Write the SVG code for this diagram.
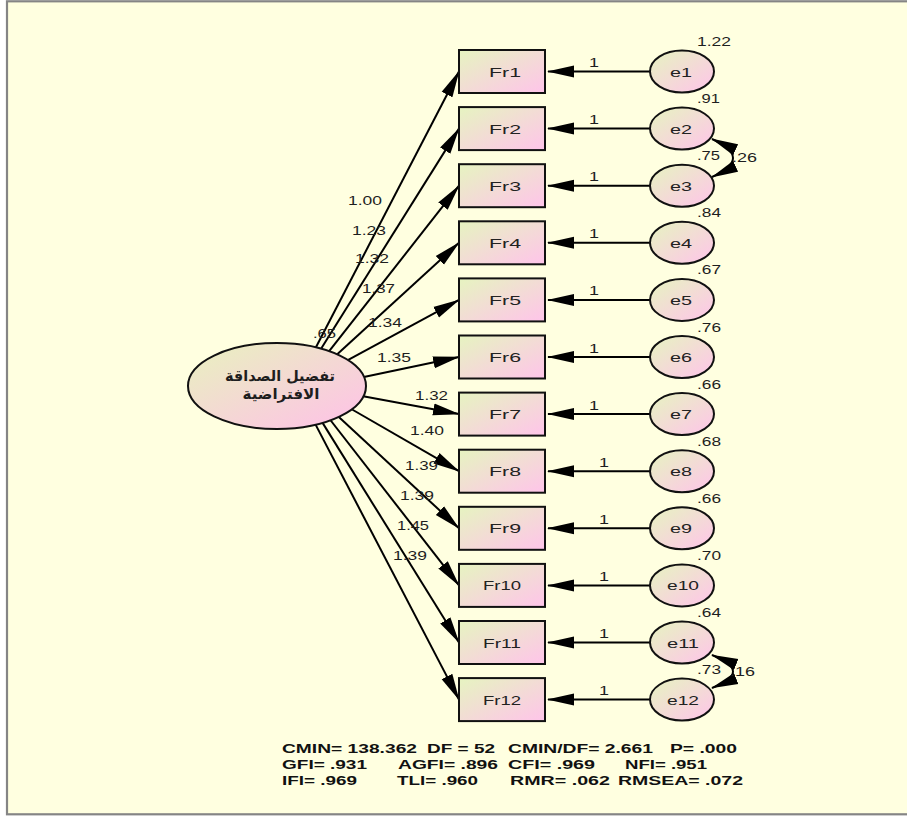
<svg xmlns="http://www.w3.org/2000/svg" width="907" height="816" viewBox="0 0 907 816">
  <defs>
    <linearGradient id="fillGrad" x1="0" y1="0" x2="1" y2="1">
      <stop offset="0" stop-color="#E6F4C0"/>
      <stop offset="1" stop-color="#FFC4EA"/>
    </linearGradient>
    <linearGradient id="latentGrad" x1="0" y1="0" x2="1" y2="1">
      <stop offset="0" stop-color="#E8F2BE"/>
      <stop offset="1" stop-color="#FFC0E8"/>
    </linearGradient>
    <marker id="head" markerUnits="userSpaceOnUse" viewBox="0 0 28 14" markerWidth="28" markerHeight="14" refX="26" refY="7" orient="auto-start-reverse">
      <path d="M0,1 L27,7 L0,13 z" fill="#000"/>
    </marker>
    <style>
      .frame{fill:#FFFFE0;stroke:#858585;stroke-width:2.2}
      .obs{fill:url(#fillGrad);stroke:#111;stroke-width:2}
      .err{fill:url(#fillGrad);stroke:#111;stroke-width:2}
      .lat{fill:url(#latentGrad);stroke:#111;stroke-width:2}
      .path{stroke:#000;stroke-width:2;fill:none;marker-end:url(#head)}
      .cov{stroke:#000;stroke-width:2;fill:none;marker-start:url(#head);marker-end:url(#head)}
      .name{font-family:"Liberation Sans",Arial,sans-serif;font-size:13.5px;fill:#222;text-anchor:middle}
      .num{font-family:"Liberation Sans",Arial,sans-serif;font-size:13px;fill:#1e1e1e}
      .ar{font-family:"DejaVu Sans","Noto Sans",sans-serif;font-size:15px;font-weight:bold;fill:#1e1e1e;text-anchor:middle}
      .fit{font-family:"Liberation Sans",Arial,sans-serif;font-size:13px;font-weight:bold;fill:#111}
    </style>
  </defs>

  <!-- canvas and frame -->
  <rect x="0" y="0" width="907" height="816" fill="#FFFFFF"/>
  <rect class="frame" x="7" y="1.3" width="1000" height="813"/>

  <!-- paths: factor loadings, error terms, covariances -->
  <g id="connectors">
    <line class="path" x1="314" y1="351" x2="459" y2="71.5"/>
    <line class="path" x1="319.8" y1="350.8" x2="459" y2="128.6"/>
    <line class="path" x1="328" y1="352.7" x2="459" y2="185.7"/>
    <line class="path" x1="335.6" y1="355.8" x2="459" y2="242.8"/>
    <line class="path" x1="346.4" y1="360.9" x2="459" y2="299.9"/>
    <line class="path" x1="359.1" y1="377.9" x2="459" y2="357"/>
    <line class="path" x1="359.1" y1="395.6" x2="459" y2="414.1"/>
    <line class="path" x1="347.8" y1="407" x2="459" y2="471.2"/>
    <line class="path" x1="335.6" y1="413.9" x2="459" y2="528.3"/>
    <line class="path" x1="328" y1="417" x2="459" y2="585.4"/>
    <line class="path" x1="320.1" y1="418.9" x2="459" y2="642.5"/>
    <line class="path" x1="313.9" y1="421.4" x2="459" y2="699.6"/>

    <line class="path" x1="650" y1="71.5" x2="548" y2="71.5"/>
    <line class="path" x1="650" y1="128.6" x2="548" y2="128.6"/>
    <line class="path" x1="650" y1="185.7" x2="548" y2="185.7"/>
    <line class="path" x1="650" y1="242.8" x2="548" y2="242.8"/>
    <line class="path" x1="650" y1="299.9" x2="548" y2="299.9"/>
    <line class="path" x1="650" y1="357" x2="548" y2="357"/>
    <line class="path" x1="650" y1="414.1" x2="548" y2="414.1"/>
    <line class="path" x1="650" y1="471.2" x2="548" y2="471.2"/>
    <line class="path" x1="650" y1="528.3" x2="548" y2="528.3"/>
    <line class="path" x1="650" y1="585.4" x2="548" y2="585.4"/>
    <line class="path" x1="650" y1="642.5" x2="548" y2="642.5"/>
    <line class="path" x1="650" y1="699.6" x2="548" y2="699.6"/>

    <path class="cov" d="M712,139 Q754,158 712,177"/>
    <path class="cov" d="M712,655 Q754,671.5 712,688"/>
  </g>

  <!-- latent factor -->
  <g id="latent">
    <ellipse class="lat" cx="277" cy="386" rx="89" ry="43"/>
    <text class="ar" x="280" y="381" textLength="110" lengthAdjust="spacingAndGlyphs">تفضيل الصداقة</text>
    <text class="ar" x="281" y="399" textLength="77" lengthAdjust="spacingAndGlyphs">الافتراضية</text>
  </g>

  <!-- observed items -->
  <g id="Fr1"><rect class="obs" x="459" y="50" width="86" height="43"/><text class="name" x="505" y="76.5" textLength="32" lengthAdjust="spacingAndGlyphs">Fr1</text></g>
  <g id="Fr2"><rect class="obs" x="459" y="107.1" width="86" height="43"/><text class="name" x="505" y="133.6" textLength="32" lengthAdjust="spacingAndGlyphs">Fr2</text></g>
  <g id="Fr3"><rect class="obs" x="459" y="164.2" width="86" height="43"/><text class="name" x="505" y="190.7" textLength="32" lengthAdjust="spacingAndGlyphs">Fr3</text></g>
  <g id="Fr4"><rect class="obs" x="459" y="221.3" width="86" height="43"/><text class="name" x="505" y="247.8" textLength="32" lengthAdjust="spacingAndGlyphs">Fr4</text></g>
  <g id="Fr5"><rect class="obs" x="459" y="278.4" width="86" height="43"/><text class="name" x="505" y="304.9" textLength="32" lengthAdjust="spacingAndGlyphs">Fr5</text></g>
  <g id="Fr6"><rect class="obs" x="459" y="335.5" width="86" height="43"/><text class="name" x="505" y="362" textLength="32" lengthAdjust="spacingAndGlyphs">Fr6</text></g>
  <g id="Fr7"><rect class="obs" x="459" y="392.6" width="86" height="43"/><text class="name" x="505" y="419.1" textLength="32" lengthAdjust="spacingAndGlyphs">Fr7</text></g>
  <g id="Fr8"><rect class="obs" x="459" y="449.7" width="86" height="43"/><text class="name" x="505" y="476.2" textLength="32" lengthAdjust="spacingAndGlyphs">Fr8</text></g>
  <g id="Fr9"><rect class="obs" x="459" y="506.8" width="86" height="43"/><text class="name" x="505" y="533.3" textLength="32" lengthAdjust="spacingAndGlyphs">Fr9</text></g>
  <g id="Fr10"><rect class="obs" x="459" y="563.9" width="86" height="43"/><text class="name" x="502" y="590.4" textLength="38" lengthAdjust="spacingAndGlyphs">Fr10</text></g>
  <g id="Fr11"><rect class="obs" x="459" y="621" width="86" height="43"/><text class="name" x="502" y="647.5" textLength="38" lengthAdjust="spacingAndGlyphs">Fr11</text></g>
  <g id="Fr12"><rect class="obs" x="459" y="678.1" width="86" height="43"/><text class="name" x="502" y="704.6" textLength="38" lengthAdjust="spacingAndGlyphs">Fr12</text></g>

  <!-- error terms -->
  <g id="e1"><ellipse class="err" cx="682" cy="71.5" rx="32" ry="21"/><text class="name" x="681" y="76.5" textLength="22" lengthAdjust="spacingAndGlyphs">e1</text></g>
  <g id="e2"><ellipse class="err" cx="682" cy="128.6" rx="32" ry="21"/><text class="name" x="681" y="133.6" textLength="22" lengthAdjust="spacingAndGlyphs">e2</text></g>
  <g id="e3"><ellipse class="err" cx="682" cy="185.7" rx="32" ry="21"/><text class="name" x="681" y="190.7" textLength="22" lengthAdjust="spacingAndGlyphs">e3</text></g>
  <g id="e4"><ellipse class="err" cx="682" cy="242.8" rx="32" ry="21"/><text class="name" x="681" y="247.8" textLength="22" lengthAdjust="spacingAndGlyphs">e4</text></g>
  <g id="e5"><ellipse class="err" cx="682" cy="299.9" rx="32" ry="21"/><text class="name" x="681" y="304.9" textLength="22" lengthAdjust="spacingAndGlyphs">e5</text></g>
  <g id="e6"><ellipse class="err" cx="682" cy="357" rx="32" ry="21"/><text class="name" x="681" y="362" textLength="22" lengthAdjust="spacingAndGlyphs">e6</text></g>
  <g id="e7"><ellipse class="err" cx="682" cy="414.1" rx="32" ry="21"/><text class="name" x="681" y="419.1" textLength="22" lengthAdjust="spacingAndGlyphs">e7</text></g>
  <g id="e8"><ellipse class="err" cx="682" cy="471.2" rx="32" ry="21"/><text class="name" x="681" y="476.2" textLength="22" lengthAdjust="spacingAndGlyphs">e8</text></g>
  <g id="e9"><ellipse class="err" cx="682" cy="528.3" rx="32" ry="21"/><text class="name" x="681" y="533.3" textLength="22" lengthAdjust="spacingAndGlyphs">e9</text></g>
  <g id="e10"><ellipse class="err" cx="682" cy="585.4" rx="32" ry="21"/><text class="name" x="683" y="590.4" textLength="32" lengthAdjust="spacingAndGlyphs">e10</text></g>
  <g id="e11"><ellipse class="err" cx="682" cy="642.5" rx="32" ry="21"/><text class="name" x="683" y="647.5" textLength="32" lengthAdjust="spacingAndGlyphs">e11</text></g>
  <g id="e12"><ellipse class="err" cx="682" cy="699.6" rx="32" ry="21"/><text class="name" x="683" y="704.6" textLength="32" lengthAdjust="spacingAndGlyphs">e12</text></g>

  <!-- estimates -->
  <g id="estimates" class="num">
    <text x="348" y="205" textLength="34" lengthAdjust="spacingAndGlyphs">1.00</text>
    <text x="352" y="235" textLength="34" lengthAdjust="spacingAndGlyphs">1.23</text>
    <text x="355" y="263" textLength="34" lengthAdjust="spacingAndGlyphs">1.32</text>
    <text x="362" y="293" textLength="33" lengthAdjust="spacingAndGlyphs">1.37</text>
    <text x="368" y="327" textLength="34" lengthAdjust="spacingAndGlyphs">1.34</text>
    <text x="313" y="338" textLength="23" lengthAdjust="spacingAndGlyphs">.65</text>
    <text x="377" y="362" textLength="34" lengthAdjust="spacingAndGlyphs">1.35</text>
    <text x="415" y="400" textLength="33" lengthAdjust="spacingAndGlyphs">1.32</text>
    <text x="410" y="435" textLength="34" lengthAdjust="spacingAndGlyphs">1.40</text>
    <text x="405" y="470" textLength="33" lengthAdjust="spacingAndGlyphs">1.39</text>
    <text x="400" y="500" textLength="34" lengthAdjust="spacingAndGlyphs">1.39</text>
    <text x="397" y="530" textLength="32" lengthAdjust="spacingAndGlyphs">1.45</text>
    <text x="393" y="560" textLength="34" lengthAdjust="spacingAndGlyphs">1.39</text>

    <text x="589" y="67" textLength="10" lengthAdjust="spacingAndGlyphs">1</text>
    <text x="589" y="124.1" textLength="10" lengthAdjust="spacingAndGlyphs">1</text>
    <text x="589" y="181.2" textLength="10" lengthAdjust="spacingAndGlyphs">1</text>
    <text x="589" y="238.3" textLength="10" lengthAdjust="spacingAndGlyphs">1</text>
    <text x="589" y="295.4" textLength="10" lengthAdjust="spacingAndGlyphs">1</text>
    <text x="589" y="352.5" textLength="10" lengthAdjust="spacingAndGlyphs">1</text>
    <text x="589" y="409.6" textLength="10" lengthAdjust="spacingAndGlyphs">1</text>
    <text x="599" y="466.7" textLength="10" lengthAdjust="spacingAndGlyphs">1</text>
    <text x="599" y="523.8" textLength="10" lengthAdjust="spacingAndGlyphs">1</text>
    <text x="599" y="580.9" textLength="10" lengthAdjust="spacingAndGlyphs">1</text>
    <text x="599" y="638" textLength="10" lengthAdjust="spacingAndGlyphs">1</text>
    <text x="599" y="695.1" textLength="10" lengthAdjust="spacingAndGlyphs">1</text>

    <text x="697" y="46" textLength="34" lengthAdjust="spacingAndGlyphs">1.22</text>
    <text x="697" y="103.1" textLength="23" lengthAdjust="spacingAndGlyphs">.91</text>
    <text x="697" y="160.2" textLength="23" lengthAdjust="spacingAndGlyphs">.75</text>
    <text x="697" y="217.3" textLength="24" lengthAdjust="spacingAndGlyphs">.84</text>
    <text x="697" y="274.4" textLength="24" lengthAdjust="spacingAndGlyphs">.67</text>
    <text x="697" y="331.5" textLength="24" lengthAdjust="spacingAndGlyphs">.76</text>
    <text x="697" y="388.6" textLength="24" lengthAdjust="spacingAndGlyphs">.66</text>
    <text x="697" y="445.7" textLength="24" lengthAdjust="spacingAndGlyphs">.68</text>
    <text x="697" y="502.8" textLength="24" lengthAdjust="spacingAndGlyphs">.66</text>
    <text x="697" y="559.9" textLength="24" lengthAdjust="spacingAndGlyphs">.70</text>
    <text x="697" y="617" textLength="24" lengthAdjust="spacingAndGlyphs">.64</text>
    <text x="697" y="674.1" textLength="24" lengthAdjust="spacingAndGlyphs">.73</text>

    <text x="732" y="162" textLength="25" lengthAdjust="spacingAndGlyphs">.26</text>
    <text x="730" y="676" textLength="25" lengthAdjust="spacingAndGlyphs">.16</text>
  </g>

  <!-- fit indices -->
  <g id="fit" class="fit">
    <text y="753"><tspan x="282" textLength="135" lengthAdjust="spacingAndGlyphs">CMIN= 138.362</tspan><tspan x="427" textLength="68" lengthAdjust="spacingAndGlyphs">DF = 52</tspan><tspan x="508" textLength="145" lengthAdjust="spacingAndGlyphs">CMIN/DF= 2.661</tspan><tspan x="670" textLength="67" lengthAdjust="spacingAndGlyphs">P= .000</tspan></text>
    <text y="769"><tspan x="282" textLength="85" lengthAdjust="spacingAndGlyphs">GFI= .931</tspan><tspan x="398" textLength="100" lengthAdjust="spacingAndGlyphs">AGFI= .896</tspan><tspan x="508" textLength="87" lengthAdjust="spacingAndGlyphs">CFI= .969</tspan><tspan x="625" textLength="82" lengthAdjust="spacingAndGlyphs">NFI= .951</tspan></text>
    <text y="785"><tspan x="282" textLength="75" lengthAdjust="spacingAndGlyphs">IFI= .969</tspan><tspan x="397" textLength="81" lengthAdjust="spacingAndGlyphs">TLI= .960</tspan><tspan x="510" textLength="100" lengthAdjust="spacingAndGlyphs">RMR= .062</tspan><tspan x="618" textLength="125" lengthAdjust="spacingAndGlyphs">RMSEA= .072</tspan></text>
  </g>
</svg>
